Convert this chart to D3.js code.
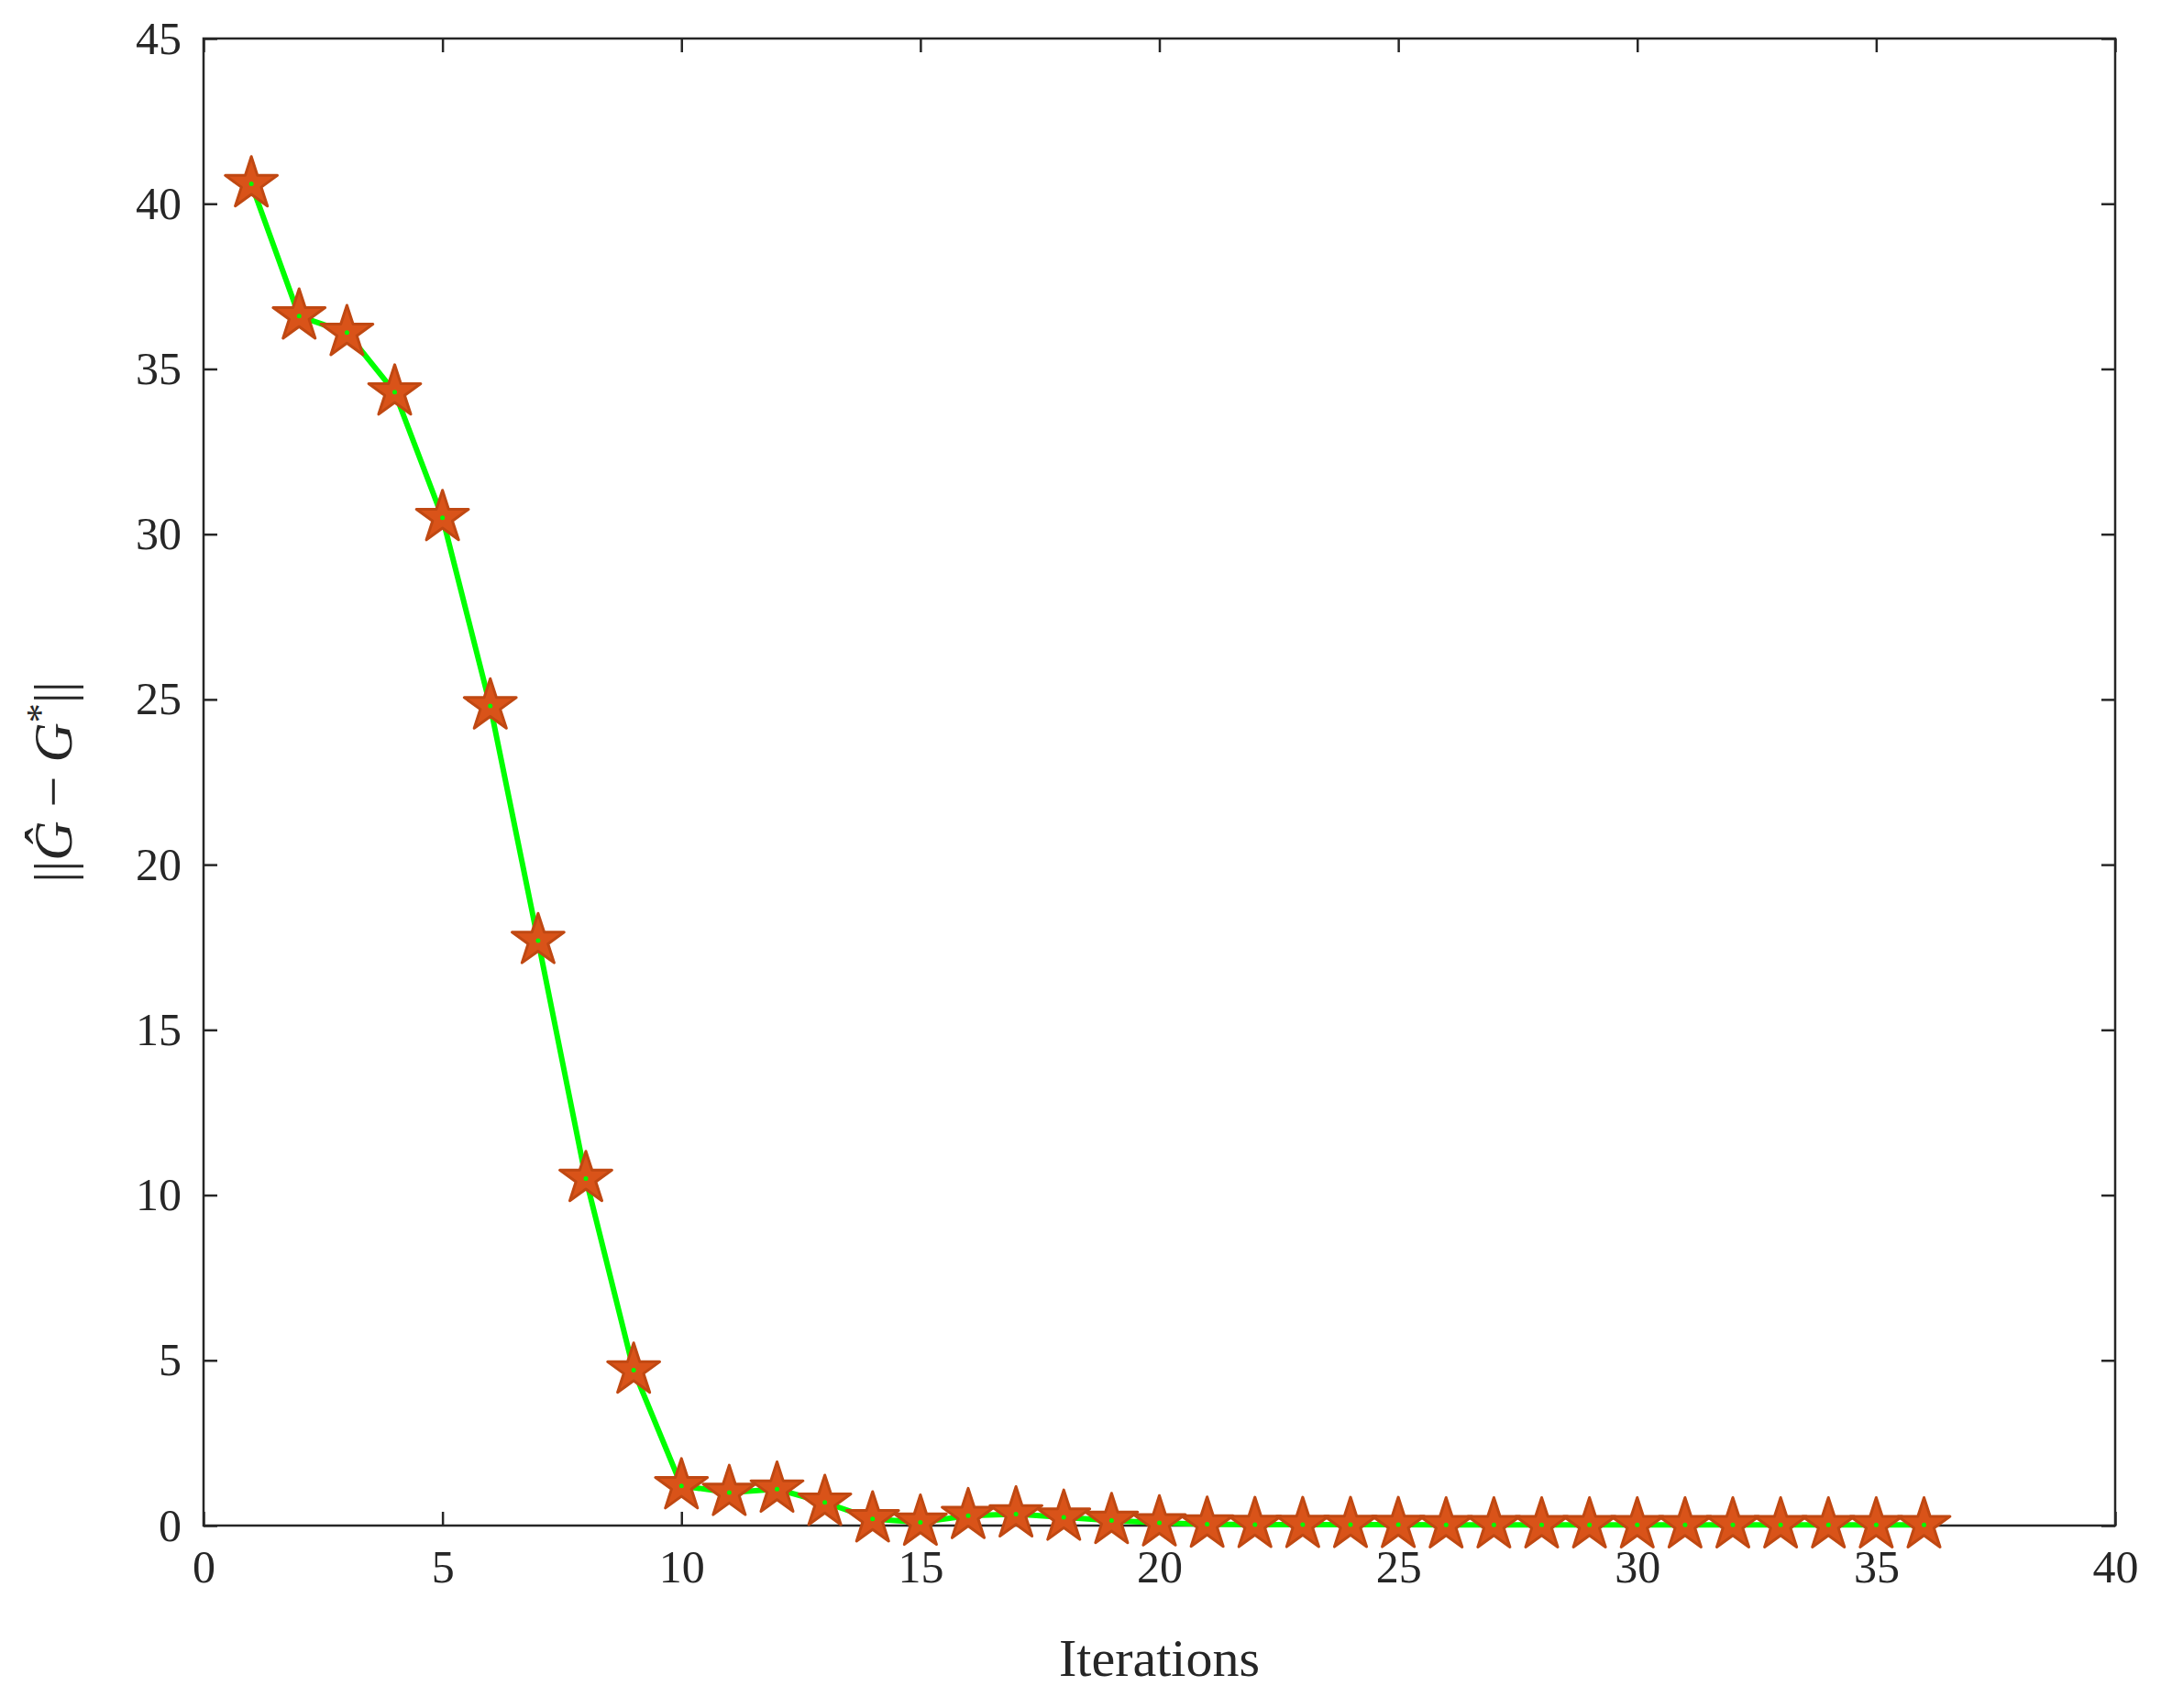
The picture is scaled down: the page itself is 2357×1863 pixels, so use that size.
<!DOCTYPE html>
<html><head><meta charset="utf-8">
<script src="https://cdn.jsdelivr.net/npm/d3@7"></script>
<style>body{margin:0;background:#fff}</style>
</head><body><div id="chart"></div>
<script>
// data
var iterations = d3.range(1, 37);
var errorNorm = [40.6, 36.6, 36.1, 34.3, 30.5, 24.8, 17.7, 10.5, 4.7, 1.2,
                 1.0, 1.1, 0.7, 0.2, 0.1, 0.3, 0.35, 0.25, 0.15, 0.08,
                 0.04, 0.03, 0.03, 0.03, 0.03, 0.02, 0.02, 0.02, 0.02, 0.02,
                 0.02, 0.02, 0.02, 0.02, 0.02, 0.02];
var xTicks = [0, 5, 10, 15, 20, 25, 30, 35, 40];
var yTicks = [0, 5, 10, 15, 20, 25, 30, 35, 40, 45];

var W = 2357, H = 1863;
var m = {left: 222, right: 50, top: 42, bottom: 199};
var w = W - m.left - m.right, h = H - m.top - m.bottom;

var svg = d3.select("#chart").append("svg").attr("width", W).attr("height", H)
  .style("font-family", "'Liberation Serif', serif");
var g = svg.append("g").attr("transform", "translate(" + m.left + "," + m.top + ")");

var x = d3.scaleLinear().domain([0, 40]).range([0, w]);
var y = d3.scaleLinear().domain([0, 45]).range([h, 0]);

function styleAxis(sel) {
  sel.attr("font-family", "'Liberation Serif', serif");
  sel.select(".domain").remove();
  sel.selectAll("line").attr("stroke", "#262626").attr("stroke-width", 2.5);
  sel.selectAll("text").attr("fill", "#262626").style("font-size", "50px");
}
g.append("g").attr("transform", "translate(0," + h + ")")
  .call(d3.axisBottom(x).tickValues(xTicks).tickSize(-15).tickPadding(26)).call(styleAxis);
g.append("g").call(d3.axisTop(x).tickValues(xTicks).tickSize(-15).tickFormat("")).call(styleAxis);
g.append("g").call(d3.axisLeft(y).tickValues(yTicks).tickSize(-15).tickPadding(24)).call(styleAxis);
g.append("g").attr("transform", "translate(" + w + ",0)")
  .call(d3.axisRight(y).tickValues(yTicks).tickSize(-15).tickFormat("")).call(styleAxis);
g.append("rect").attr("width", w).attr("height", h).attr("fill", "none")
  .attr("stroke", "#262626").attr("stroke-width", 2.5);

var pts = iterations.map(function(d, i) { return [d, errorNorm[i]]; });
g.append("path").datum(pts).attr("fill", "none").attr("stroke", "#00ff00").attr("stroke-width", 6)
  .attr("d", d3.line().x(function(d) { return x(d[0]); }).y(function(d) { return y(d[1]); }));

var star = d3.symbol().type(d3.symbolStar).size(1000);
g.selectAll(".star").data(pts).enter().append("path")
  .attr("transform", function(d) { return "translate(" + x(d[0]) + "," + y(d[1]) + ")"; })
  .attr("d", star).attr("fill", "#d95319").attr("stroke", "#c04812").attr("stroke-width", 3)
  .attr("stroke-linejoin", "round");
g.selectAll(".dot").data(pts).enter().append("circle")
  .attr("cx", function(d) { return x(d[0]); }).attr("cy", function(d) { return y(d[1]); })
  .attr("r", 2.5).attr("fill", "#00ff00");

svg.append("text").attr("x", m.left + w / 2).attr("y", H - 35).attr("text-anchor", "middle")
  .style("font-size", "58px").attr("fill", "#262626").text("Iterations");

var yl = svg.append("text").attr("transform", "translate(78," + (m.top + h / 2) + ") rotate(-90)")
  .attr("text-anchor", "middle").style("font-size", "60px").attr("fill", "#262626");
yl.append("tspan").text("||");
yl.append("tspan").style("font-style", "italic").text("Ĝ");
yl.append("tspan").text(" − ");
yl.append("tspan").style("font-style", "italic").text("G");
yl.append("tspan").attr("dy", -20).style("font-size", "42px").text("*");
yl.append("tspan").attr("dy", 20).text("||");
</script></body></html>
